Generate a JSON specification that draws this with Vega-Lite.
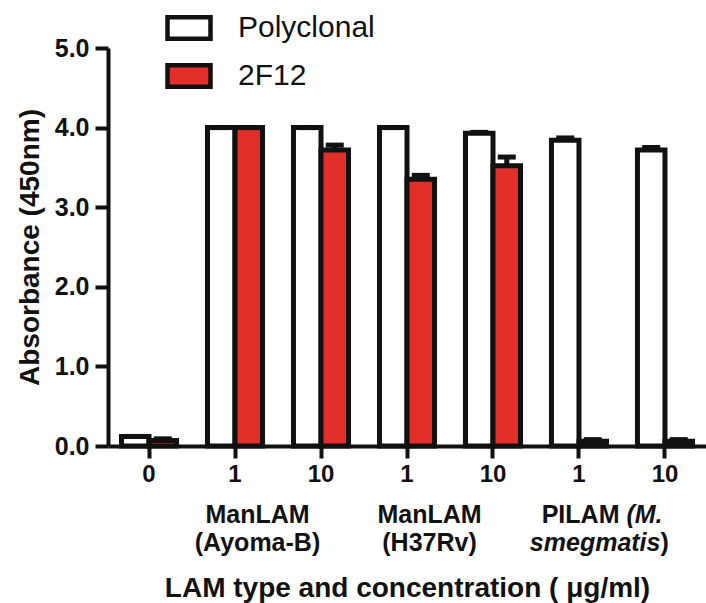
{
  "$schema": "https://vega.github.io/schema/vega-lite/v6.json",
  "width": 598,
  "height": 398,
  "autosize": {"type": "none"},
  "padding": {"left": 108, "top": 48, "right": 0, "bottom": 157},
  "background": "white",
  "config": {
    "view": {"stroke": null},
    "font": "Liberation Sans",
    "axis": {"grid": false, "domainColor": "#111", "tickColor": "#111", "labelColor": "#111", "titleColor": "#111"}
  },
  "data": {
    "values": [
      {"cond": "c0", "ab": "Polyclonal", "val": 0.12, "top": 0.12},
      {"cond": "c0", "ab": "2F12", "val": 0.07, "top": 0.09},
      {"cond": "a1", "ab": "Polyclonal", "val": 4.0, "top": 4.0},
      {"cond": "a1", "ab": "2F12", "val": 4.0, "top": 4.0},
      {"cond": "a10", "ab": "Polyclonal", "val": 4.0, "top": 4.0},
      {"cond": "a10", "ab": "2F12", "val": 3.72, "top": 3.78},
      {"cond": "h1", "ab": "Polyclonal", "val": 4.0, "top": 4.0},
      {"cond": "h1", "ab": "2F12", "val": 3.35, "top": 3.4},
      {"cond": "h10", "ab": "Polyclonal", "val": 3.93, "top": 3.94},
      {"cond": "h10", "ab": "2F12", "val": 3.52, "top": 3.63},
      {"cond": "p1", "ab": "Polyclonal", "val": 3.84, "top": 3.87},
      {"cond": "p1", "ab": "2F12", "val": 0.06, "top": 0.08},
      {"cond": "p10", "ab": "Polyclonal", "val": 3.72, "top": 3.75},
      {"cond": "p10", "ab": "2F12", "val": 0.06, "top": 0.08}
    ]
  },
  "encoding": {
    "x": {
      "field": "cond", "type": "nominal",
      "sort": ["c0", "a1", "a10", "h1", "h10", "p1", "p10"],
      "scale": {"paddingInner": 0.36, "paddingOuter": 0.157},
      "axis": {
        "labelExpr": "substring(datum.label, 1)",
        "labelAngle": 0,
        "labelFont": "Liberation Sans", "labelFontWeight": "bold", "labelFontSize": 24,
        "labelPadding": 4,
        "domainWidth": 4, "tickWidth": 4, "tickSize": 12,
        "title": "LAM type and concentration ( μg/ml)",
        "titleFont": "Liberation Sans", "titleFontWeight": "bold", "titleFontSize": 28,
        "titlePadding": 88
      }
    },
    "xOffset": {"field": "ab", "type": "nominal", "sort": ["Polyclonal", "2F12"], "scale": {"paddingInner": 0, "paddingOuter": 0}}
  },
  "layer": [
    {
      "mark": {"type": "bar", "stroke": "#111", "strokeWidth": 5, "strokeJoin": "miter"},
      "encoding": {
        "y": {
          "field": "val", "type": "quantitative",
          "scale": {"domain": [0, 5], "nice": false},
          "axis": {
            "values": [0, 1, 2, 3, 4, 5], "format": ".1f",
            "labelFont": "Liberation Sans", "labelFontWeight": "bold", "labelFontSize": 25,
            "labelPadding": 6,
            "domainWidth": 4, "tickWidth": 4, "tickSize": 13,
            "title": "Absorbance (450nm)",
            "titleFont": "Liberation Sans", "titleFontWeight": "bold", "titleFontSize": 28,
            "titlePadding": 10
          }
        },
        "fill": {
          "field": "ab", "type": "nominal",
          "scale": {"domain": ["Polyclonal", "2F12"], "range": ["#ffffff", "#E32F2A"]},
          "legend": {
            "title": null, "orient": "none", "legendX": 57, "legendY": -44,
            "symbolType": "M-1,-0.5H1V0.5H-1Z", "symbolSize": 1849,
            "symbolStrokeColor": "#111", "symbolStrokeWidth": 4.5,
            "labelFont": "Liberation Sans", "labelFontSize": 30, "labelColor": "#111",
            "labelOffset": 25, "rowPadding": 4, "padding": 0
          }
        }
      }
    },
    {
      "mark": {"type": "rule", "stroke": "#111", "strokeWidth": 5},
      "encoding": {
        "y": {"field": "val", "type": "quantitative"},
        "y2": {"field": "top"}
      }
    },
    {
      "mark": {"type": "tick", "color": "#111", "thickness": 5, "size": 18, "opacity": 1},
      "encoding": {
        "y": {"field": "top", "type": "quantitative"}
      }
    },
    {
      "data": {"values": [
        {"cond": "a1", "l1": "ManLAM", "l2": "(Ayoma-B)"},
        {"cond": "h1", "l1": "ManLAM", "l2": "(H37Rv)"}
      ]},
      "layer": [
        {"mark": {"type": "text", "font": "Liberation Sans", "fontWeight": "bold", "fontSize": 25, "color": "#111", "dx": 50, "baseline": "middle"},
         "encoding": {"x": {"field": "cond", "type": "nominal"}, "xOffset": {"value": 0}, "y": {"datum": -0.87}, "text": {"field": "l1"}}},
        {"mark": {"type": "text", "font": "Liberation Sans", "fontWeight": "bold", "fontSize": 25, "color": "#111", "dx": 50, "baseline": "middle"},
         "encoding": {"x": {"field": "cond", "type": "nominal"}, "xOffset": {"value": 0}, "y": {"datum": -1.22}, "text": {"field": "l2"}}}
      ]
    },
    {
      "data": {"values": [
        {"cond": "p1", "t": "PILAM", "line": 1, "part": "a"},
        {"cond": "p1", "t": "(M.", "line": 1, "part": "b"},
        {"cond": "p1", "t": "smegmatis", "line": 2, "part": "a"},
        {"cond": "p1", "t": ")", "line": 2, "part": "b"}
      ]},
      "layer": [
        {"transform": [{"filter": "datum.line == 1 && datum.part == 'a'"}],
         "mark": {"type": "text", "font": "Liberation Sans", "fontWeight": "bold", "fontSize": 25, "color": "#111", "dx": 68, "align": "right", "baseline": "middle"},
         "encoding": {"x": {"field": "cond", "type": "nominal"}, "xOffset": {"value": 0}, "y": {"datum": -0.87}, "text": {"field": "t"}}},
        {"transform": [{"filter": "datum.line == 1 && datum.part == 'b'"}],
         "mark": {"type": "text", "font": "Liberation Sans", "fontWeight": "bold", "fontStyle": "italic", "fontSize": 25, "color": "#111", "dx": 75, "align": "left", "baseline": "middle"},
         "encoding": {"x": {"field": "cond", "type": "nominal"}, "xOffset": {"value": 0}, "y": {"datum": -0.87}, "text": {"field": "t"}}},
        {"transform": [{"filter": "datum.line == 2 && datum.part == 'a'"}],
         "mark": {"type": "text", "font": "Liberation Sans", "fontWeight": "bold", "fontStyle": "italic", "fontSize": 25, "color": "#111", "dx": 109, "align": "right", "baseline": "middle"},
         "encoding": {"x": {"field": "cond", "type": "nominal"}, "xOffset": {"value": 0}, "y": {"datum": -1.22}, "text": {"field": "t"}}},
        {"transform": [{"filter": "datum.line == 2 && datum.part == 'b'"}],
         "mark": {"type": "text", "font": "Liberation Sans", "fontWeight": "bold", "fontSize": 25, "color": "#111", "dx": 109, "align": "left", "baseline": "middle"},
         "encoding": {"x": {"field": "cond", "type": "nominal"}, "xOffset": {"value": 0}, "y": {"datum": -1.22}, "text": {"field": "t"}}}
      ]
    }
  ]
}
